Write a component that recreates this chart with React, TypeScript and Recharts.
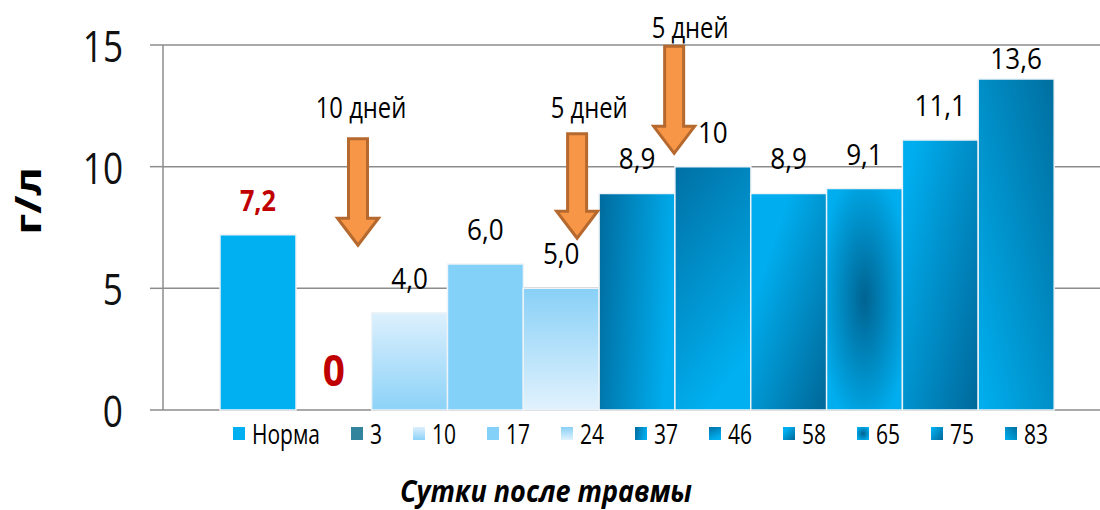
import React from "react";
import {
  BarChart,
  Bar,
  Cell,
  XAxis,
  YAxis,
  CartesianGrid,
  Legend,
  ReferenceLine,
  ReferenceDot,
  Label,
} from "recharts";

// days after injury (legend) and protein level, g/l
const categories = ["Норма", "3", "10", "17", "24", "37", "46", "58", "65", "75", "83"];
const values = [7.2, 0, 4.0, 6.0, 5.0, 8.9, 10, 8.9, 9.1, 11.1, 13.6];
const valueLabels = ["7,2", "0", "4,0", "6,0", "5,0", "8,9", "10", "8,9", "9,1", "11,1", "13,6"];
const yTicks = [0, 5, 10, 15];

// treatment arrows (x in bar units, y in g/l)
const arrowX = [1.82, 4.71, 5.99];
const arrowTop = [11.15, 11.35, 14.95];
const arrowTip = [6.77, 7.06, 10.55];
const arrowText = ["10 дней", "5 дней", "5 дней"];
const arrowTextX = [1.86, 4.87, 6.2];
const arrowTextY = [12.0, 12.0, 15.29];

const data = categories.map((name, i) => ({ name, pos: i, value: values[i], label: valueLabels[i] }));

const FONT = "'Open Sans', 'Liberation Sans', sans-serif";
const GRID = "#8c8c8c";

let ctx: CanvasRenderingContext2D | null = null;
const measure = (text: string, font: string) => {
  if (!ctx) ctx = document.createElement("canvas").getContext("2d");
  if (!ctx) return text.length * 14;
  ctx.font = font;
  return ctx.measureText(text).width;
};

type Grad = { stops: [string, string]; dir?: [number, number, number, number]; radial?: boolean };

const FILLS: Grad[] = [
  { stops: ["#00B0F0", "#00B0F0"] },
  { stops: ["#31849B", "#31849B"] },
  { stops: ["#DDF0FD", "#8CD2F8"], dir: [0, 0, 0, 1] },
  { stops: ["#83D1F9", "#83D1F9"] },
  { stops: ["#88D0F7", "#E1F2FD"], dir: [0, 0, 0, 1] },
  { stops: ["#006C9F", "#00AEEF"], dir: [0, 0.1, 1, 0.3] },
  { stops: ["#0070A4", "#00B0F0"], dir: [0, 0, 0.4, 1] },
  { stops: ["#00AEEF", "#006B9C"], dir: [0.2, 0.3, 0.9, 1] },
  { stops: ["#006391", "#00AEEF"], radial: true },
  { stops: ["#00AEEF", "#00689A"], dir: [0, 0.2, 1, 1] },
  { stops: ["#00B0F0", "#006E9F"], dir: [0, 1, 1, 0] },
];

const gradDefs = (
  <defs>
    {FILLS.map((f, i) => {
      const d = f.dir || [0, 0, 0, 1];
      return f.radial ? (
        <radialGradient key={i} id={`g${i}`} cx="0.5" cy="0.5" r="0.6">
          <stop offset="0%" stopColor={f.stops[0]} />
          <stop offset="100%" stopColor={f.stops[1]} />
        </radialGradient>
      ) : (
        <linearGradient key={i} id={`g${i}`} x1={d[0]} y1={d[1]} x2={d[2]} y2={d[3]}>
          <stop offset="0%" stopColor={f.stops[0]} />
          <stop offset="100%" stopColor={f.stops[1]} />
        </linearGradient>
      );
    })}
  </defs>
);

// horizontally squeezed svg text (the source looks like condensed Calibri)
const Squeezed = ({ x, y, sx, children, ...rest }: any) => (
  <text transform={`translate(${x},${y}) scale(${sx},1)`} x={0} y={0} fontFamily={FONT} {...rest}>
    {children}
  </text>
);

const Arrow = (props: any) => {
  const { x1, y1, y2 } = props;
  const cx = x1;
  const top = Math.min(y1, y2);
  const tip = Math.max(y1, y2);
  const hs = tip - 27;
  const pts = [
    [cx - 9.5, top],
    [cx + 9.5, top],
    [cx + 9.5, hs],
    [cx + 20.5, hs],
    [cx, tip],
    [cx - 20.5, hs],
    [cx - 9.5, hs],
  ]
    .map((p) => p.join(","))
    .join(" ");
  return <polygon points={pts} fill="#F79646" stroke="#B5692E" strokeWidth={3} />;
};

const ArrowText = (text: string) => (props: any) => (
  <Squeezed x={props.cx} y={props.cy} sx={0.82} textAnchor="middle" fontSize={29} fill="#000">
    {text}
  </Squeezed>
);

const ValueText = (i: number) => (props: any) => {
  const red = i <= 1;
  const gap = values[i] >= 13 ? 10 : 24;
  return (
    <Squeezed
      x={props.cx}
      y={props.cy - gap}
      sx={red ? 0.9 : 0.87}
      textAnchor="middle"
      fontWeight={red ? 700 : 400}
      fontSize={i === 1 ? 43 : red ? 28 : 30}
      fill={red ? "#C00000" : "#000"}
    >
      {valueLabels[i]}
    </Squeezed>
  );
};

const YTick = (props: any) => (
  <Squeezed x={props.x} y={props.y} sx={0.8} textAnchor="end" dominantBaseline="central" fontSize={44} fill="#111">
    {props.payload.value}
  </Squeezed>
);

const LEG_FONT = `28px ${FONT}`;
const TITLE_FONT = `italic 700 30px ${FONT}`;

const renderLegend = () => {
  const ls = 0.75;
  const tw = measure("Сутки после травмы", TITLE_FONT);
  const ts = 292 / tw;
  return (
    <div style={{ fontFamily: FONT, position: "relative", height: 90 }}>
      <div style={{ display: "flex", alignItems: "center", paddingLeft: 233, height: 28 }}>
        {categories.map((c, i) => (
          <div key={c} style={{ display: "flex", alignItems: "center", marginRight: 31 }}>
            <svg width={12} height={13} style={{ display: "block" }}>
              <rect width={12} height={13} fill={`url(#g${i})`} />
            </svg>
            <span style={{ display: "inline-block", marginLeft: 7, width: measure(c, LEG_FONT) * ls, height: 28 }}>
              <span
                style={{
                  display: "inline-block",
                  fontSize: 28,
                  lineHeight: "28px",
                  color: "#000",
                  whiteSpace: "nowrap",
                  transform: `scaleX(${ls})`,
                  transformOrigin: "left center",
                }}
              >
                {c}
              </span>
            </span>
          </div>
        ))}
      </div>
      <div style={{ position: "absolute", top: 55, left: 546 - 146, width: 292, height: 34 }}>
        <span
          style={{
            display: "inline-block",
            whiteSpace: "nowrap",
            fontSize: 30,
            fontWeight: 700,
            fontStyle: "italic",
            lineHeight: "34px",
            color: "#000",
            transform: `scaleX(${ts})`,
            transformOrigin: "left center",
          }}
        >
          Сутки после травмы
        </span>
      </div>
    </div>
  );
};

export default function App() {
  return (
    <div style={{ position: "absolute", left: 0, top: 0, width: 1100, height: 510, background: "#fff" }}>
      <BarChart
        width={1100}
        height={510}
        data={data}
        margin={{ top: 45, right: 0, bottom: 100, left: 0 }}
        barCategoryGap={0}
        barGap={0}
      >
        {gradDefs}
        <CartesianGrid vertical={false} stroke={GRID} strokeWidth={1.5} />
        <XAxis dataKey="name" hide padding={{ left: 57, right: 46 }} />
        <XAxis
          xAxisId="n"
          dataKey="pos"
          type="number"
          domain={[0, 11]}
          allowDataOverflow
          hide
          padding={{ left: 57, right: 46 }}
        />
        <YAxis
          domain={[0, 15]}
          ticks={yTicks}
          width={163}
          tickSize={13}
          tickMargin={27}
          axisLine={{ stroke: GRID, strokeWidth: 1.5 }}
          tickLine={{ stroke: GRID, strokeWidth: 1.5 }}
          tick={YTick}
        >
          <Label
            content={() => (
              <text
                transform="translate(27,201) scale(0.8,1) rotate(-90)"
                x={0}
                y={0}
                textAnchor="middle"
                dominantBaseline="central"
                fontFamily={FONT}
                fontWeight={700}
                fontSize={44}
                fill="#000"
              >
                г/л
              </text>
            )}
          />
        </YAxis>
        <Legend
          layout="horizontal"
          verticalAlign="middle"
          align="center"
          content={renderLegend}
          wrapperStyle={{ position: "absolute", top: 419, left: 0, width: 1100 }}
        />
        <Bar dataKey="value" isAnimationActive={false} stroke="#eef3f7" strokeWidth={1.5}>
          {data.map((d, i) => (
            <Cell key={d.name} fill={`url(#g${i})`} />
          ))}
        </Bar>
        {categories.map((c, i) => (
          <ReferenceDot key={`v${i}`} x={c} y={values[i]} ifOverflow="visible" shape={ValueText(i)} />
        ))}
        {arrowX.map((x, i) => (
          <ReferenceLine
            key={`a${i}`}
            xAxisId="n"
            segment={[
              { x, y: arrowTop[i] },
              { x, y: arrowTip[i] },
            ]}
            ifOverflow="visible"
            shape={Arrow}
          />
        ))}
        {arrowText.map((t, i) => (
          <ReferenceDot
            key={`t${i}`}
            xAxisId="n"
            x={arrowTextX[i]}
            y={arrowTextY[i]}
            ifOverflow="visible"
            shape={ArrowText(t)}
          />
        ))}
      </BarChart>
    </div>
  );
}
